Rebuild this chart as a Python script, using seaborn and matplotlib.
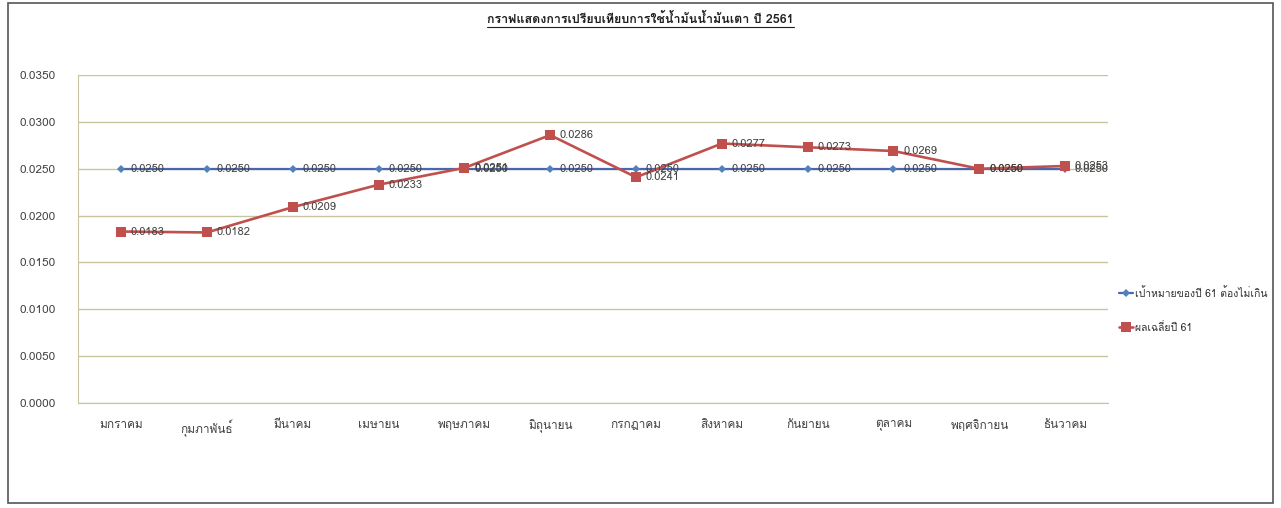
import matplotlib
matplotlib.use("Agg")
import matplotlib.pyplot as plt
import matplotlib.font_manager as fm
from matplotlib.ft2font import FT2Font
from matplotlib.patches import Rectangle
from matplotlib.lines import Line2D
import seaborn as sns
import pandas as pd

months = ["มกราคม", "กุมภาพันธ์", "มีนาคม", "เมษายน", "พฤษภาคม", "มิถุนายน",
          "กรกฎาคม", "สิงหาคม", "กันยายน", "ตุลาคม", "พฤศจิกายน", "ธันวาคม"]
target = [0.0250] * 12
actual = [0.0183, 0.0182, 0.0209, 0.0233, 0.0251, 0.0286,
          0.0241, 0.0277, 0.0273, 0.0269, 0.0250, 0.0253]
label_target = "เป้าหมายของปี 61 ต้องไม่เกิน"
label_actual = "ผลเฉลี่ยปี 61"
title = "กราฟแสดงการเปรียบเทียบการใช้น้ำมันน้ำมันเตา ปี 2561"
yticks = [0.0, 0.005, 0.010, 0.015, 0.020, 0.025, 0.030, 0.035]

# find a font that has Thai glyphs
thai_font = None
for f in fm.fontManager.ttflist:
    try:
        if 0x0E01 in FT2Font(f.fname).get_charmap():
            thai_font = f.name
            break
    except Exception:
        pass

sns.set_style("white")
fams = ([thai_font] if thai_font else []) + ["DejaVu Sans"]
plt.rcParams["font.family"] = fams

df = pd.DataFrame({
    "month": months * 2,
    "value": target + actual,
    "series": [label_target] * 12 + [label_actual] * 12,
})

fig = plt.figure(figsize=(12.81, 5.08), dpi=100)
ax = fig.add_axes([0.061, 0.207, 0.804, 0.645])

blue = "#4a66b0"
red = "#c0504d"
sns.lineplot(data=df, x="month", y="value", hue="series", style="series",
             palette=[blue, red], markers=["D", "s"], dashes=False,
             sort=False, ax=ax, legend=False)
for line, ms in zip(ax.lines, [4, 7]):
    line.set_markersize(ms)
    line.set_linewidth(1.6)
    line.set_markeredgewidth(0)
ax.lines[0].set_markerfacecolor("#4f81bd")
ax.lines[1].set_linewidth(1.9)

# data labels, right of each point like the original
for series in (target, actual):
    for i, v in enumerate(series):
        ax.annotate(f"{v:.4f}", (i, v), xytext=(7, 0), textcoords="offset points",
                    va="center", ha="left", fontsize=8, color="#404040")

ax.set_xlim(-0.5, 11.5)
ax.set_ylim(0, 0.035)
ax.set_yticks(yticks)
ax.set_yticklabels([f"{t:.4f}" for t in yticks])
ax.yaxis.grid(True, color="#c8c4a0", linewidth=1)
ax.set_axisbelow(True)
ax.tick_params(axis="both", length=0, labelsize=8.5, colors="#404040")
ax.tick_params(axis="x", pad=12)
ax.tick_params(axis="y", pad=16)
ax.set_xlabel("")
ax.set_ylabel("")
for s in ["top", "right"]:
    ax.spines[s].set_visible(False)
ax.spines["left"].set_color("#c8c4a0")
ax.spines["bottom"].set_color("#c8c4a0")

handles = [
    Line2D([], [], color=blue, marker="D", markersize=4, markerfacecolor="#4f81bd",
           markeredgewidth=0, linewidth=1.6),
    Line2D([], [], color=red, marker="s", markersize=7, markeredgewidth=0, linewidth=1.9),
]
fig.legend(handles, [label_target, label_actual], loc="center left",
           bbox_to_anchor=(0.866, 0.39), frameon=False, fontsize=7.5,
           handlelength=1.4, handletextpad=0.2, labelspacing=2.2,
           labelcolor="#303030")

t = fig.text(0.5, 0.962, title, ha="center", va="center", fontsize=9,
             fontweight="bold", color="#202020")
fig.canvas.draw()
bb = t.get_window_extent().transformed(fig.transFigure.inverted())
fig.add_artist(Line2D([bb.x0, bb.x1], [bb.y0 - 0.003, bb.y0 - 0.003],
                      color="#202020", linewidth=0.8, transform=fig.transFigure))

# outer chart border
fig.add_artist(Rectangle((0.006, 0.01), 0.988, 0.985, transform=fig.transFigure,
                         fill=False, edgecolor="#555555", linewidth=1.2))

fig.savefig("out.png", dpi=100)
